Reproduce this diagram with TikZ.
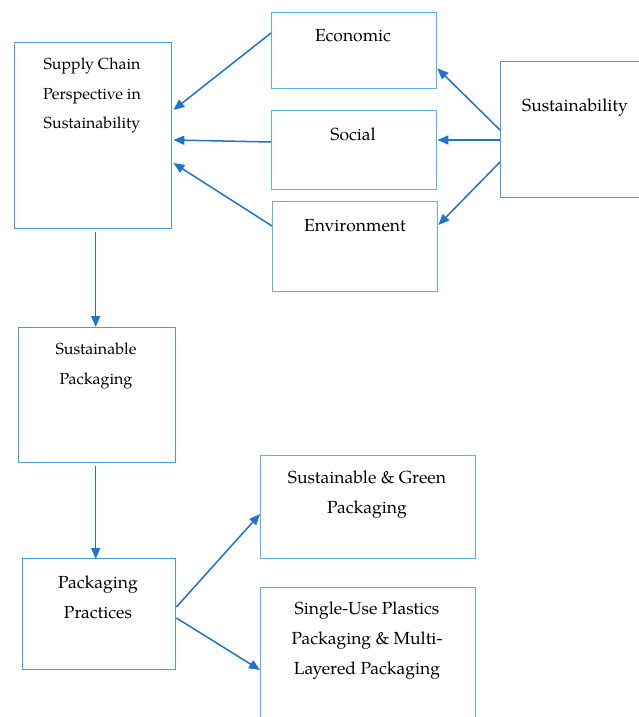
\documentclass[tikz,border=0pt]{standalone}
\usepackage{fontspec}
\setmainfont{TeX Gyre Pagella}
\usetikzlibrary{arrows.meta,calc}
\definecolor{boxblue}{RGB}{70,155,225}
\definecolor{lightblue}{RGB}{90,180,235}
\definecolor{arrowblue}{RGB}{30,115,205}
\begin{document}
\begin{tikzpicture}[x=1pt,y=-1pt,
  box/.style={draw=boxblue,line width=1.4pt,inner sep=0pt,anchor=north west},
  lbox/.style={box,draw=lightblue},
  big/.style={align=center,font=\fontsize{17.5}{30}\selectfont},
  small/.style={align=center,font=\fontsize{16}{29.5}\selectfont},
  arr/.style={draw=arrowblue,line width=1.5pt,-{Triangle[length=11pt,width=9pt]}}]
\useasboundingbox (0,0) rectangle (639,717);
\clip (0,0) rectangle (639,717);
% boxes
\node[box,minimum width=157pt,minimum height=186pt] (sc) at (14,42) {};
\node[lbox,minimum width=165pt,minimum height=76pt] (econ) at (271,12) {};
\node[lbox,minimum width=165pt,minimum height=79pt] (social) at (271,110) {};
\node[lbox,minimum width=165pt,minimum height=90pt] (env) at (272,201) {};
\node[box,minimum width=170pt,minimum height=136pt] (sus) at (500,61) {};
\node[box,minimum width=157pt,minimum height=135pt] (sp) at (18,327) {};
\node[box,minimum width=153pt,minimum height=111pt] (pp) at (22,558) {};
\node[lbox,minimum width=215pt,minimum height=103pt] (green) at (260,455) {};
\node[lbox,minimum width=215pt,minimum height=160pt] (single) at (260,587) {};
% texts
\node[small] (tsc) at (92,95.5) {Supply Chain\\Perspective in\\Sustainability};
\node[big] (tecon) at (353,36) {Economic};
\node[big] (tsoc) at (353,134) {Social};
\node[big] (tenv) at (355,226) {Environment};
\node[big] (tsus) at (575,108) {Sustainability};
\node[small] (tsp) at (96,366) {Sustainable\\Packaging};
\node[big] (tpp) at (98,597) {Packaging\\Practices};
\node[big] (tgreen) at (367,495) {Sustainable \& Green\\Packaging};
\node[big] (tsingle) at (367,641) {Single-Use Plastics\\Packaging \& Multi-\\Layered Packaging};
% arrows
\draw[arr] ($(econ.north west)+(0,21)$) -- ($(sc.north east)+(1,68)$);
\draw[arr] ($(social.north west)+(0,32)$) -- ($(sc.north east)+(1,98)$);
\draw[arr] ($(env.north west)+(0,25)$) -- ($(sc.north east)+(1,121)$);
\draw[arr] ($(sus.north west)+(0,69)$) -- ($(econ.south east)+(0,-21)$);
\draw[arr] ($(sus.north west)+(0,79)$) -- ($(social.north east)+(0,30)$);
\draw[arr] ($(sus.north west)+(0,101)$) -- ($(env.north east)+(0,24)$);
\draw[arr] ($(sc.south)+(2.5,3)$) -- ($(sp.north)+(-1.5,0)$);
\draw[arr] ($(sp.south)+(-1.5,3)$) -- ($(pp.north)+(-3.5,1)$);
\draw[arr] ($(pp.north east)+(0,49)$) -- ($(green.north west)+(0,59)$);
\draw[arr] ($(pp.north east)+(0,60)$) -- ($(single.north west)+(0,83)$);
\end{tikzpicture}
\end{document}
